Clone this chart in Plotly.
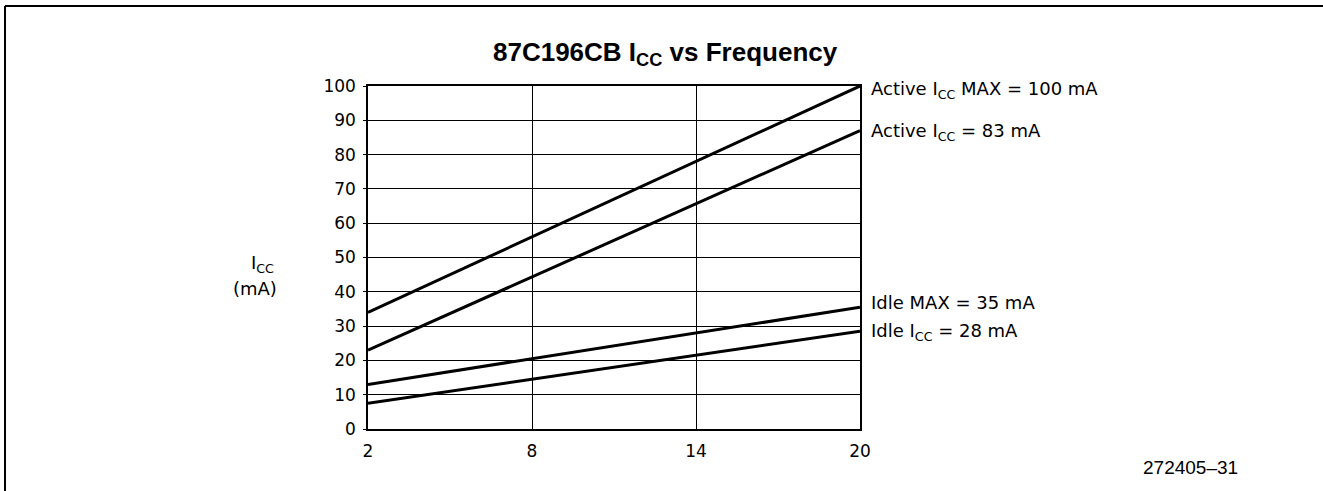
import plotly.graph_objects as go

freq = [2, 20]
active_max = [34, 100]
active_typ = [23, 87]
idle_max = [13, 35.5]
idle_typ = [7.5, 28.5]

series = [active_max, active_typ, idle_max, idle_typ]
labels = ["Active I<sub>CC</sub> MAX = 100 mA", "Active I<sub>CC</sub> = 83 mA",
          "Idle MAX = 35 mA", "Idle I<sub>CC</sub> = 28 mA"]
label_px_y = [90, 132, 302, 332]

x_ticks = [2, 8, 14, 20]
y_ticks = list(range(0, 101, 10))

W, H = 1323, 491
L, R, T, B = 368, 860, 86, 429
pw, ph = R - L, B - T

def px(x):
    return (x - L) / pw

def py(y):
    return (B - y) / ph

font = "DejaVu Sans"
fig = go.Figure()
for s in series:
    fig.add_trace(go.Scatter(x=freq, y=s, mode="lines",
                             line=dict(color="black", width=3), showlegend=False,
                             hoverinfo="skip"))

for lab, ly in zip(labels, label_px_y):
    fig.add_annotation(x=px(869), y=py(ly), xref="paper", yref="paper", text=lab,
                       showarrow=False, xanchor="left", yanchor="middle",
                       font=dict(family=font, size=18, color="black"))

fig.add_annotation(x=px(665), y=py(54), xref="paper", yref="paper",
                   text="<b>87C196CB I<sub>CC</sub> vs Frequency</b>", showarrow=False,
                   xanchor="center", yanchor="middle",
                   font=dict(family="Liberation Sans", size=26, color="black"))
fig.add_annotation(x=px(262), y=py(264), xref="paper", yref="paper",
                   text="I<sub>CC</sub>", showarrow=False, xanchor="center", yanchor="middle",
                   font=dict(family=font, size=18, color="black"))
fig.add_annotation(x=px(255), y=py(288), xref="paper", yref="paper",
                   text="(mA)", showarrow=False, xanchor="center", yanchor="middle",
                   font=dict(family=font, size=18, color="black"))
fig.add_annotation(x=px(1190), y=py(467), xref="paper", yref="paper",
                   text="272405–31", showarrow=False, xanchor="center", yanchor="middle",
                   font=dict(family="Liberation Sans", size=19, color="black"))

# outer frame (top and left edges)
fig.add_shape(type="line", xref="paper", yref="paper", x0=px(5), x1=px(1323),
              y0=py(6), y1=py(6), line=dict(color="black", width=2))
fig.add_shape(type="line", xref="paper", yref="paper", x0=px(5), x1=px(5),
              y0=py(6), y1=py(491), line=dict(color="black", width=2))

fig.update_layout(
    width=W, height=H,
    margin=dict(l=L, r=W - R, t=T, b=H - B),
    plot_bgcolor="white", paper_bgcolor="white",
    font=dict(family=font, size=17, color="black"),
)
fig.update_xaxes(range=[2, 20], tickvals=x_ticks, ticktext=[str(v) for v in x_ticks],
                 showgrid=True, gridcolor="black", gridwidth=1,
                 showline=True, linecolor="black", linewidth=1.5, mirror=True,
                 ticks="", zeroline=False, tickfont=dict(size=17),
                 ticklabelstandoff=6)
fig.update_yaxes(range=[0, 100], tickvals=y_ticks, ticktext=[str(v) for v in y_ticks],
                 showgrid=True, gridcolor="black", gridwidth=1,
                 showline=True, linecolor="black", linewidth=1.5, mirror=True,
                 ticks="outside", ticklen=3, tickcolor="black", zeroline=False,
                 tickfont=dict(size=17), ticklabelstandoff=4)

fig.write_html("out.html", config={"displayModeBar": False},
               post_script=("document.body.style.margin='0';"
                            "document.body.style.overflow='hidden';"
                            "document.documentElement.style.overflow='hidden';"))
